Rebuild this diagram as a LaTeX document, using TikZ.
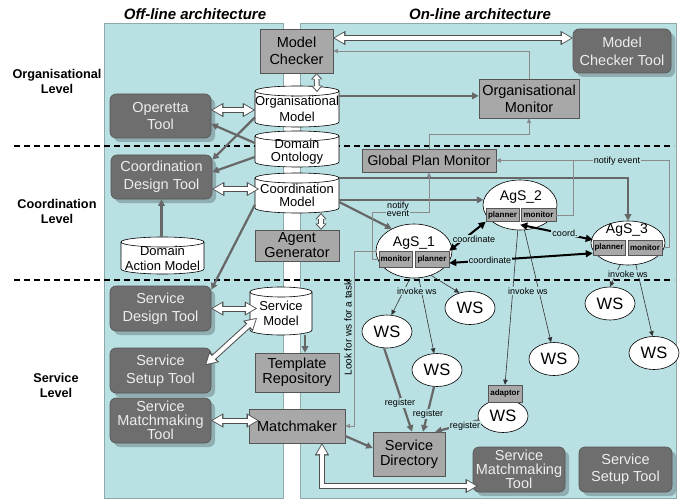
\documentclass[tikz,border=0pt]{standalone}
\usepackage{fontspec}
\setmainfont{Liberation Sans}
\usetikzlibrary{arrows.meta,shapes.geometric,shadows,calc}
\newcommand\myfs[2]{\fontsize{#1}{#2}\selectfont}
\definecolor{panelc}{HTML}{B9E0E3}
\definecolor{panelb}{HTML}{8FA8AA}
\definecolor{boxg}{HTML}{A8A8A8}
\definecolor{darkg}{HTML}{6E6E6E}
\definecolor{edgeg}{HTML}{555555}
\definecolor{lineg}{HTML}{676767}
\definecolor{thing}{HTML}{8A8A8A}
\definecolor{hollowc}{HTML}{505050}
\tikzset{
  graybox/.style={draw=edgeg, fill=boxg, line width=0.6pt, inner sep=0pt, align=center, font=\myfs{14.5}{17.5}},
  darkbox/.style={draw=edgeg, fill=darkg, line width=0.6pt, rounded corners=6pt, inner sep=0pt, align=center,
    text=white!93!black, font=\myfs{14.5}{17.5},
    drop shadow={shadow xshift=4pt, shadow yshift=-4pt, fill=black, opacity=0.22}},
  wsnode/.style={ellipse, draw=black, line width=0.6pt, fill=white, minimum width=50pt, minimum height=33pt, inner sep=0pt, font=\myfs{16.5}{18}},
  agent/.style={ellipse, draw=black, line width=0.6pt, fill=white, inner sep=0pt},
  tinybox/.style={draw=edgeg, fill=boxg, line width=0.5pt, inner sep=0pt, font=\bfseries\myfs{8}{9}},
  lbl/.style={font=\myfs{9}{10}, fill=panelc, inner sep=1pt, align=center},
  cylline/.style={draw=black, line width=0.6pt},
  thickl/.style={draw=lineg, line width=2.2pt, -{Triangle[length=6.5pt,width=6.5pt]}},
  thinl/.style={draw=thing, line width=0.8pt, -{Triangle[length=4.5pt,width=4pt]}},
  invl/.style={draw=black!80, line width=0.6pt, -{Triangle[length=5pt,width=4.5pt]}},
  coordl/.style={draw=black, line width=2pt, {Triangle[length=7pt,width=7pt]}-{Triangle[length=7pt,width=7pt]}},
  hollow/.style={draw=white, line width=4pt, line join=miter,
    shorten <=1.7pt, shorten >=1.7pt,
    arrows={Triangle[length=9pt,width=10.5pt,line width=0.01pt]-Triangle[length=9pt,width=10.5pt,line width=0.01pt]},
    preaction={draw=hollowc, line width=6pt, shorten <=0pt, shorten >=0pt,
      arrows={Triangle[length=12pt,width=14pt,line width=0.01pt]-Triangle[length=12pt,width=14pt,line width=0.01pt]}}},
  hollows/.style={draw=white, line width=3.6pt, line join=miter,
    shorten <=1.3pt, shorten >=1.3pt,
    arrows={Triangle[length=4.3pt,width=7.5pt,line width=0.01pt]-Triangle[length=4.3pt,width=7.5pt,line width=0.01pt]},
    preaction={draw=hollowc, line width=5.6pt, shorten <=0pt, shorten >=0pt,
      arrows={Triangle[length=6pt,width=11pt,line width=0.01pt]-Triangle[length=6pt,width=11pt,line width=0.01pt]}}},
  levellbl/.style={font=\bfseries\myfs{12.7}{15}, align=center},
  titlelbl/.style={font=\bfseries\itshape\myfs{15}{18}},
}
% name, cx, cy, w, h, baselineskip, text
\newcommand\mycyl[7]{%
  \node[minimum width=#4pt, minimum height=#5pt, inner sep=0pt] (#1) at (#2,#3) {};
  \draw[cylline, fill=white] ({#2-#4/2},{#3-#5/2+5}) -- ({#2-#4/2},{#3+#5/2-5})
     arc[start angle=180, end angle=0, x radius={#4/2}, y radius=5] -- ({#2+#4/2},{#3-#5/2+5});
  \draw[cylline, fill=white] (#2,{#3-#5/2+5}) ellipse[x radius={#4/2}, y radius=5];
  \node[align=center, font=\myfs{13}{#6}] (#1-t) at (#2,{#3+2.5}) {#7};
}
\begin{document}
\begin{tikzpicture}[x=1pt,y=-1pt]
\useasboundingbox[fill=white] (0,0) rectangle (683,500);
% panels
\draw[fill=panelc, draw=panelb, line width=0.5pt] (104,23) rectangle (283,498);
\draw[fill=panelc, draw=panelb, line width=0.5pt] (300,23) rectangle (676,498);
% dashed level separators
\draw[black, line width=1.2pt, dash pattern=on 6pt off 4pt] (14,146) -- (674,146);
\draw[black, line width=1.2pt, dash pattern=on 6pt off 4pt] (14,280) -- (674,280);
% titles and levels
\node[titlelbl] (t1) at (195,14) {Off-line architecture};
\node[titlelbl] (t2) at (480,14) {On-line architecture};
\node[levellbl] (l1) at (57,81) {Organisational\\Level};
\node[levellbl] (l2) at (57,211) {Coordination\\Level};
\node[levellbl] (l3) at (56,385) {Service\\Level};

% gray boxes
\node[graybox, minimum width=73pt, minimum height=44pt] (mc) at (296.5,51) {Model\\Checker};
\node[graybox, minimum width=100pt, minimum height=39pt, font=\myfs{14.5}{17}] (orgmon) at (529,98.5) {Organisational\\Monitor};
\node[graybox, minimum width=134pt, minimum height=23pt, font=\myfs{14}{16}] (gpm) at (429,160.5) {Global Plan Monitor};
\node[graybox, minimum width=84pt, minimum height=31pt, font=\myfs{14.5}{15}] (ag) at (297,245.5) {Agent\\Generator};
\node[graybox, minimum width=84pt, minimum height=39pt, font=\myfs{14.5}{15}] (tr) at (297,372.5) {Template\\Repository};
\node[graybox, minimum width=96pt, minimum height=34pt] (mm) at (297,426) {Matchmaker};
\node[graybox, minimum width=72pt, minimum height=44pt, font=\myfs{14.5}{14.5}] (sd) at (409,454) {Service\\Directory};

% dark tool boxes
\node[darkbox, minimum width=98pt, minimum height=44pt, font=\myfs{14.5}{18}] (mct) at (622,51) {Model\\Checker Tool};
\node[darkbox, minimum width=101pt, minimum height=44pt] (op) at (160.5,116) {Operetta\\Tool};
\node[darkbox, minimum width=101pt, minimum height=44pt] (cdt) at (161.5,177) {Coordination\\Design Tool};
\node[darkbox, minimum width=101pt, minimum height=45pt] (sdt) at (160.5,308.5) {Service\\Design Tool};
\node[darkbox, minimum width=101pt, minimum height=45pt] (sst) at (160.5,370.5) {Service\\Setup Tool};
\node[darkbox, minimum width=101pt, minimum height=45pt, font=\myfs{14.5}{14}] (smtl) at (160.5,420.5) {Service\\Matchmaking\\Tool};
\node[darkbox, minimum width=92pt, minimum height=45pt, font=\myfs{14.5}{14}] (smtr) at (519,469.5) {Service\\Matchmaking\\Tool};
\node[darkbox, minimum width=93pt, minimum height=45pt, font=\myfs{14.5}{17}] (sstr) at (625.5,469.5) {Service\\Setup Tool};

% cylinders
\mycyl{om}{297}{106.5}{84}{41}{16.5}{Organisational\\Model}
\mycyl{do}{297}{149}{84}{36}{13}{Domain\\Ontology}
\mycyl{cm}{297}{193}{84}{40}{13}{Coordination\\Model}
\mycyl{dam}{162.5}{255.5}{83}{37}{15}{Domain\\Action Model}
\mycyl{sm}{281}{311}{62}{48}{15}{Service\\Model}

% agents
\node[agent, minimum width=76pt, minimum height=54pt] (ag1) at (414,251) {};
\node[font=\myfs{14}{16}] (ag1-t) at (414,243) {AgS\_1};
\node[tinybox, minimum width=33pt, minimum height=16pt] (ag1mon) at (395.5,259) {monitor};
\node[tinybox, minimum width=34pt, minimum height=16pt] (ag1pl) at (432,259) {planner};
\node[agent, minimum width=74pt, minimum height=50pt] (ag2) at (520,205) {};
\node[font=\myfs{14}{16}] (ag2-t) at (521,197) {AgS\_2};
\node[tinybox, minimum width=33pt, minimum height=13pt] (ag2pl) at (502.5,215) {planner};
\node[tinybox, minimum width=35pt, minimum height=13pt] (ag2mon) at (538.5,215) {monitor};
\node[agent, minimum width=74pt, minimum height=44pt] (ag3) at (628,243) {};
\node[font=\myfs{14}{16}] (ag3-t) at (627,230) {AgS\_3};
\node[tinybox, minimum width=32pt, minimum height=15pt] (ag3pl) at (609,247.5) {planner};
\node[tinybox, minimum width=34pt, minimum height=15pt] (ag3mon) at (645,247.5) {monitor};

% web services
\node[wsnode] (ws1) at (470,308) {WS};
\node[wsnode] (ws2) at (387,331.5) {WS};
\node[wsnode] (ws3) at (437,370) {WS};
\node[wsnode] (ws4) at (503,416) {WS};
\node[wsnode] (ws5) at (554,359) {WS};
\node[wsnode] (ws6) at (610,303.5) {WS};
\node[wsnode] (ws7) at (654,353) {WS};
\node[tinybox, minimum width=34pt, minimum height=17pt] (adp) at (505,393.5) {adaptor};

% hollow (white) double arrows
\draw[hollow] ($(mc.east)+(0,-13)$) -- ($(mct.west)+(0,-13)$);
\draw[hollows] ($(mc.south)+(20,0)$) -- ($(om.north)+(20,6)$);
\draw[hollow] ($(op.east)+(0,-6)$) -- ($(op.east -| om.west)+(0,-6)$);
\draw[hollow] ($(cdt.east)+(0,12)$) -- ($(cdt.east -| cm.west)+(4,12)$);
\draw[hollows] ($(cm.south)+(24,0)$) -- ($(ag.north)+(24,0)$);
\draw[hollow] (sdt.east) -- ($(sdt.east -| sm.west)+(7,0)$);
\draw[hollow] ($(sst.east)+(-6,-5.5)$) -- ($(sm.west)+(7,7)$);
\draw[hollow] (smtl.east) -- ($(smtl.east -| mm.west)+(10,0)$);
\draw[hollow] ($(mm.south)+(25,0)$) |- ($(smtr.west)+(5,16.5)$);

% thick gray connectors
\draw[thickl] (om.east |- orgmon.177) -- (orgmon.177);
\draw[thickl] ($(do.west)+(0,-6)$) -- ($(op.east)+(0,8)$);
\draw[thickl] ($(om.west)+(0,11)$) -- ($(cdt.north east)+(0,5)$);
\draw[thickl] ($(do.west)+(0,8)$) -- ($(cdt.east)+(0,-5)$);
\draw[thickl] (cdt.south |- dam.north) -- (cdt.south);
\draw[thickl] ($(cm.west)+(0,12)$) -- ($(sdt.north east)+(0,4)$);
\draw[thickl] ($(cm.east)+(0,-15)$) -| (ag3.north);
\draw[thickl] (cm.east |- ag2.172) -- (ag2.172);
\draw[thickl] ($(cm.east)+(0,9)$) -- (ag1.135);
\draw[thickl] ($(sm.south)+(24,0)$) -- ($(tr.north)+(8,0)$);
\draw[thickl] ($(mm.east)+(0,10)$) -- ($(sd.west)+(0,-6)$);
\draw[thickl] (ws2.260) -- ($(sd.north)+(3,0)$);
\draw[thickl] (ws3.260) -- ($(sd.north)+(14,0)$);
\draw[thickl] (ws4.190) -- ($(sd.north east)+(-10,0)$);

% thin gray notification lines
\draw[thinl] (orgmon.north) |- (mc.east);
\draw[thinl] (gpm.north) -- ++(0,-14) -| (orgmon.south);
\draw[thinl] (ag1mon.west) -- ++(-6,0) -- ++(0,-47) -| (gpm.south);
\draw[thinl] (ag2mon.east) -- ++(17,0) |- (gpm.east);
\draw[thinl] (ag3mon.east) -- ++(7,0) |- (gpm.east);
\draw[thinl] (ag1.west) -- ++(-21,0) |- (mm.east);

% invoke ws
\draw[invl] (ag1.262) -- (ws2.75);
\draw[invl] (ag1.280) -- (ws3.100);
\draw[invl] (ag1.305) -- (ws1.125);
\draw[invl] (ag2.265) -- (adp.north);
\draw[invl] (ag2.280) -- (ws5.100);
\draw[invl] (ag3.250) -- (ws6.north);
\draw[invl] (ag3.290) -- (ws7.95);

% coordinate
\draw[coordl] (ag1pl.north east) -- (ag2pl.south west);
\draw[coordl] ($(ag1pl.east)+(0,4)$) -- ($(ag3pl.south west)+(0,-2)$);
\draw[coordl] ($(ag2pl.south east)+(1,3)$) -- (ag3pl.north west);

% labels
\node[lbl, font=\myfs{9}{8}] (n1) at (398,209) {notify\\event};
\node[lbl] (n2) at (617,161) {notify event};
\node[lbl] (c1) at (474,239) {coordinate};
\node[lbl] (c2) at (490,260) {coordinate};
\node[lbl] (c3) at (565,233) {coord.};
\node[lbl] (i1) at (417,291) {invoke ws};
\node[lbl] (i2) at (528,291) {invoke ws};
\node[lbl] (i3) at (628,274) {invoke ws};
\node[lbl] (r1) at (400,403) {register};
\node[lbl] (r2) at (428,414) {register};
\node[lbl] (r3) at (465,426) {register};
\node[font=\myfs{10}{11}, rotate=90] (lk) at (348,328) {Look for ws for a task};
\end{tikzpicture}
\end{document}
